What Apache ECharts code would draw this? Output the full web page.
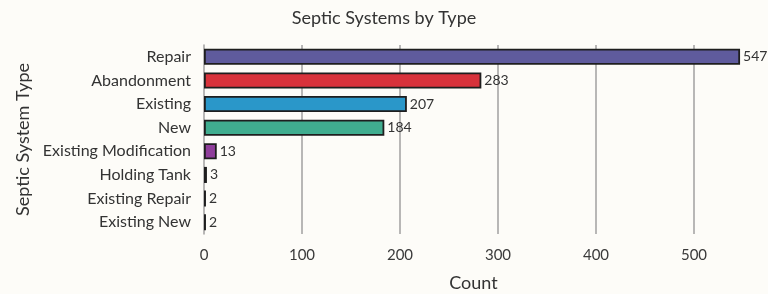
<!DOCTYPE html>
<html>
<head>
<meta charset="utf-8">
<script src="https://cdn.jsdelivr.net/npm/echarts@6/dist/echarts.min.js"></script>
<style>
html,body{margin:0;padding:0;background:#fdfcf8;}
#main{width:768px;height:294px;}
</style>
</head>
<body>
<div id="main"></div>
<script>
// categories, top to bottom as in the picture
var types = ['Repair','Abandonment','Existing','New','Existing Modification','Holding Tank','Existing Repair','Existing New'];
var counts = [547,283,207,184,13,3,2,2];
var barColors = ['#5f5b9d','#d8323b','#2a97c9','#40ad8f','#8f3e9b','#b06d9f','#4b3b3b','#4b3b3b'];
var gridTicks = [100,200,300,400,500];

var chart = echarts.init(document.getElementById('main'));
var fnt = 'Lato';

var data = [];
for (var i = 0; i < counts.length; i++) {
	data.push({value: counts[i], itemStyle: {color: barColors[i]}});
}
var lines = [];
for (var j = 0; j < gridTicks.length; j++) {
	lines.push({xAxis: gridTicks[j]});
}

var option = {
	backgroundColor: '#fdfcf8',
	textStyle: {fontFamily: fnt},
	title: {
		text: 'Septic Systems by Type',
		left: 'center',
		top: 4,
		textStyle: {fontFamily: fnt, fontSize: 18, fontWeight: 'normal', color: '#333'}
	},
	grid: {left: 204, right: 25, top: 45, height: 189, outerBoundsMode: 'none', containLabel: false},
	xAxis: {
		type: 'value',
		min: 0,
		max: 550,
		interval: 100,
		name: 'Count',
		nameLocation: 'middle',
		nameGap: 40,
		nameTextStyle: {fontFamily: fnt, fontSize: 18, color: '#333'},
		axisLine: {show: false},
		axisTick: {show: false},
		splitLine: {show: false},
		axisLabel: {
			fontFamily: fnt, fontSize: 15, color: '#3a3a3a', margin: 14,
			formatter: function (v) { return v % 100 === 0 ? v : ''; }
		}
	},
	yAxis: {
		type: 'category',
		inverse: true,
		data: types,
		name: 'Septic System Type',
		nameLocation: 'middle',
		nameRotate: 90,
		nameGap: 164,
		nameTextStyle: {fontFamily: fnt, fontSize: 18, color: '#333'},
		axisLine: {show: true, lineStyle: {color: '#a0a0a0', width: 1.5}},
		axisTick: {show: false},
		axisLabel: {fontFamily: fnt, fontSize: 16, color: '#333', margin: 13}
	},
	series: [{
		type: 'bar',
		data: data,
		barCategoryGap: '32%',
		itemStyle: {borderColor: '#1e1e1e', borderWidth: 1.8},
		label: {show: true, position: 'right', distance: 3, fontFamily: fnt, fontSize: 14, color: '#333'},
		markLine: {
			silent: true,
			symbol: 'none',
			label: {show: false},
			lineStyle: {color: '#a0a0a0', width: 1.5, type: 'solid'},
			data: lines,
			z: 1
		},
		z: 3
	}]
};
chart.setOption(option);
</script>
</body>
</html>
